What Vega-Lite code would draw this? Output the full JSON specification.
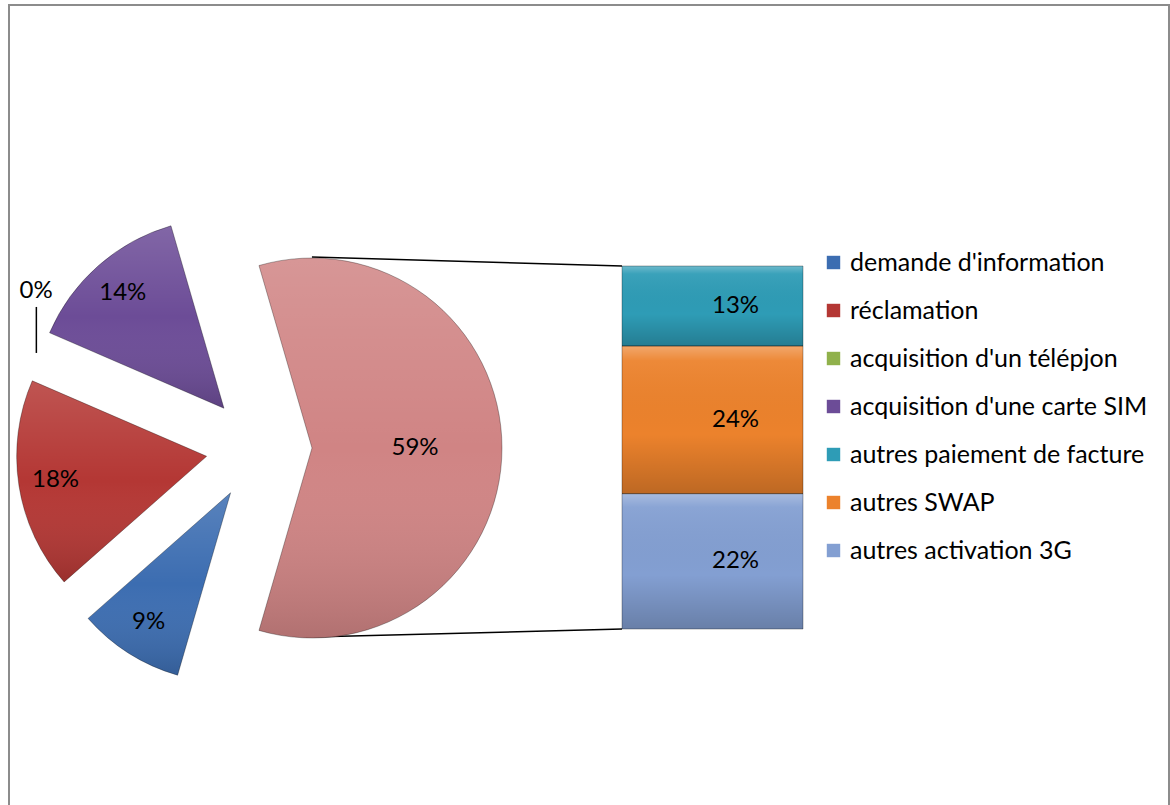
{
  "$schema": "https://vega.github.io/schema/vega-lite/v6.json",
  "width": 1160,
  "height": 805,
  "padding": {"left": 9, "top": 5, "right": 1, "bottom": 0},
  "background": "white",
  "config": {
    "view": {"stroke": "#8c8c8c", "strokeWidth": 2},
    "font": "Lato"
  },
  "datasets": {
    "pie": [
      {"cat": "autres", "share": 0.59, "ord": 0},
      {"cat": "demande d'information", "share": 0.09, "ord": 1},
      {"cat": "réclamation", "share": 0.18, "ord": 2},
      {"cat": "acquisition d'un télépjon", "share": 0.0, "ord": 3},
      {"cat": "acquisition d'une carte SIM", "share": 0.14, "ord": 4}
    ],
    "bar": [
      {"cat": "autres activation 3G", "share": 0.22, "ord": 1},
      {"cat": "autres SWAP", "share": 0.24, "ord": 2},
      {"cat": "autres paiement de facture", "share": 0.13, "ord": 3}
    ]
  },
  "resolve": {"scale": {"x": "independent", "y": "independent"}},
  "layer": [
    {
      "layer": [
        {
          "data": {"values": [{"side": "haut"}]},
          "mark": {"type": "rule", "color": "black", "strokeWidth": 1.5},
          "encoding": {
            "x": {"datum": -1.713, "type": "quantitative", "scale": {"domain": [0, 1], "range": [613, 794]}, "axis": null},
            "y": {"datum": 0.6046, "type": "quantitative", "scale": {"domain": [0, 0.59], "range": [624, 261]}, "axis": null},
            "x2": {"datum": 0},
            "y2": {"datum": 0.59}
          }
        },
        {
          "data": {"values": [{"side": "bas"}]},
          "mark": {"type": "rule", "color": "black", "strokeWidth": 1.5},
          "encoding": {
            "x": {"datum": -1.713, "type": "quantitative", "scale": {"domain": [0, 1], "range": [613, 794]}, "axis": null},
            "y": {"datum": -0.013, "type": "quantitative", "scale": {"domain": [0, 0.59], "range": [624, 261]}, "axis": null},
            "x2": {"datum": 0},
            "y2": {"datum": 0}
          }
        },
        {
          "data": {"name": "bar"},
          "transform": [
            {"stack": "share", "groupby": [], "sort": [{"field": "ord"}], "as": ["b0", "b1"]},
            {"calculate": "(datum.b0 + datum.b1) / 2", "as": "bm"}
          ],
          "encoding": {
            "y": {"field": "b0", "type": "quantitative", "scale": {"domain": [0, 0.59], "range": [624, 261]}, "axis": null}
          },
          "layer": [
            {
              "mark": {"type": "bar"},
              "encoding": {
                "x": {"datum": 0, "type": "quantitative", "scale": {"domain": [0, 1], "range": [613, 794]}, "axis": null},
                "x2": {"datum": 1},
                "y2": {"field": "b1"},
                "color": {"field": "cat", "type": "nominal"}
              }
            },
            {
              "mark": {
                "type": "bar",
                "fill": {"gradient": "linear", "x1": 0, "y1": 0, "x2": 0, "y2": 1,
                  "stops": [
                    {"offset": 0, "color": "rgba(255,255,255,0.3)"},
                    {"offset": 0.1, "color": "rgba(255,255,255,0.06)"},
                    {"offset": 0.6, "color": "rgba(0,0,0,0.0)"},
                    {"offset": 1, "color": "rgba(0,0,0,0.2)"}
                  ]},
                "stroke": "rgba(0,0,0,0.3)",
                "strokeWidth": 1
              },
              "encoding": {
                "x": {"datum": 0, "type": "quantitative"},
                "x2": {"datum": 1},
                "y2": {"field": "b1"}
              }
            },
            {
              "mark": {"type": "text", "fontSize": 24, "color": "black", "dx": 23},
              "encoding": {
                "x": {"datum": 0.5, "type": "quantitative"},
                "y": {"field": "bm", "type": "quantitative"},
                "text": {"field": "share", "type": "quantitative", "format": ".0%"}
              }
            }
          ]
        }
      ]
    },
    {
      "data": {"name": "pie"},
      "transform": [
        {"stack": "share", "groupby": [], "sort": [{"field": "ord"}], "as": ["t0", "t1"]},
        {"calculate": "-0.09 * PI + PI * (datum.t0 + datum.t1)", "as": "am"},
        {"calculate": "sin(datum.am)", "as": "ex"},
        {"calculate": "cos(datum.am)", "as": "ey"},
        {"calculate": "(datum.t0 + datum.t1) / 2", "as": "tm"}
      ],
      "encoding": {
        "x": {"field": "ex", "type": "quantitative", "scale": {"domain": [-1, 1], "range": [197, 303]}, "axis": null},
        "y": {"field": "ey", "type": "quantitative", "scale": {"domain": [-1, 1], "range": [496, 390]}, "axis": null}
      },
      "layer": [
        {
          "transform": [{"filter": "datum.share > 0"}],
          "mark": {"type": "arc", "outerRadius": 190},
          "encoding": {
            "theta": {"field": "t0", "type": "quantitative", "scale": {"domain": [0, 1], "range": [-0.28274, 6.00044]}},
            "theta2": {"field": "t1"},
            "color": {
              "field": "cat",
              "type": "nominal",
              "scale": {
                "domain": ["demande d'information", "réclamation", "acquisition d'un télépjon", "acquisition d'une carte SIM", "autres paiement de facture", "autres SWAP", "autres activation 3G", "autres"],
                "range": ["#3C6DB1", "#B43734", "#90B14B", "#6C4C97", "#2E9CB6", "#EC822C", "#839FD2", "#D08484"]
              },
              "legend": {
                "title": null,
                "orient": "none",
                "legendX": 812,
                "legendY": 245,
                "values": ["demande d'information", "réclamation", "acquisition d'un télépjon", "acquisition d'une carte SIM", "autres paiement de facture", "autres SWAP", "autres activation 3G"],
                "symbolType": "square",
                "symbolSize": 180,
                "symbolStrokeWidth": 0,
                "labelFontSize": 25,
                "labelFont": "Lato",
                "labelColor": "black",
                "labelOffset": 4,
                "labelLimit": 500,
                "rowPadding": 22,
                "padding": 0
              }
            }
          }
        },
        {
          "transform": [{"filter": "datum.share > 0"}],
          "mark": {
            "type": "arc",
            "outerRadius": 190,
            "fill": {"gradient": "linear", "x1": 0, "y1": 0, "x2": 0, "y2": 1,
              "stops": [
                {"offset": 0, "color": "rgba(255,255,255,0.15)"},
                {"offset": 0.5, "color": "rgba(255,255,255,0.0)"},
                {"offset": 1, "color": "rgba(0,0,0,0.15)"}
              ]},
            "stroke": "rgba(0,0,0,0.3)",
            "strokeWidth": 1
          },
          "encoding": {
            "theta": {"field": "t0", "type": "quantitative"},
            "theta2": {"field": "t1"}
          }
        },
        {
          "transform": [{"filter": "datum.share > 0 && datum.share < 0.5"}],
          "mark": {"type": "text", "radius": 153, "fontSize": 24, "color": "black"},
          "encoding": {
            "theta": {"field": "tm", "type": "quantitative", "stack": null},
            "text": {"field": "share", "type": "quantitative", "format": ".0%"}
          }
        },
        {
          "transform": [{"filter": "datum.share >= 0.5"}],
          "mark": {"type": "text", "radius": 103, "fontSize": 24, "color": "black"},
          "encoding": {
            "theta": {"field": "tm", "type": "quantitative", "stack": null},
            "text": {"field": "share", "type": "quantitative", "format": ".0%"}
          }
        },
        {
          "transform": [{"filter": "datum.share == 0"}],
          "mark": {"type": "text", "radius": 221, "theta": 5.375, "fontSize": 24, "color": "black"},
          "encoding": {
            "text": {"field": "share", "type": "quantitative", "format": ".0%"}
          }
        },
        {
          "transform": [{"filter": "datum.share == 0"}],
          "mark": {"type": "rule", "color": "black", "strokeWidth": 1.5, "xOffset": -174, "x2Offset": -174, "yOffset": -120, "y2Offset": -74},
          "encoding": {
            "x2": {"field": "ex"},
            "y2": {"field": "ey"}
          }
        }
      ]
    }
  ]
}
